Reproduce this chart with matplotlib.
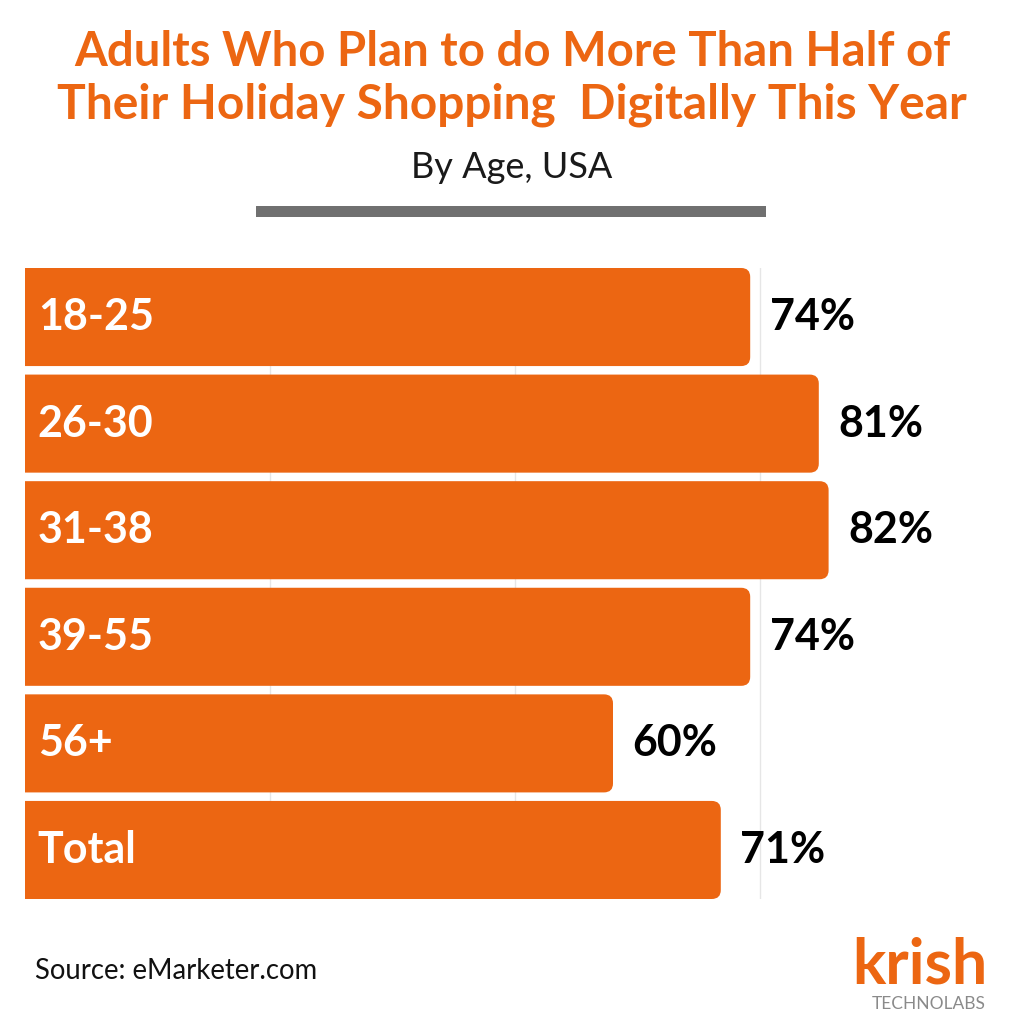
import matplotlib
matplotlib.use("Agg")
import matplotlib.pyplot as plt
from matplotlib.patches import FancyBboxPatch

categories = ["18-25", "26-30", "31-38", "39-55", "56+", "Total"]
values = [74, 81, 82, 74, 60, 71]
value_labels = ["74%", "81%", "82%", "74%", "60%", "71%"]
grid_ticks = [25, 50, 75]

ORANGE = "#EC6612"
W, H = 1024, 1024
fig = plt.figure(figsize=(10.24, 10.24), dpi=100)
fig.patch.set_facecolor("white")

def fx(px):
    return px / W

def fy(py):
    return 1 - py / H

ax_top, ax_bot, ax_l, ax_r = 268, 899, 25, 1005
ax = fig.add_axes([fx(ax_l), fy(ax_bot), fx(ax_r - ax_l), (ax_bot - ax_top) / H])
ax.set_xlim(0, 100)
ax.set_ylim(5.46, -0.46)
for s in ax.spines.values():
    s.set_visible(False)
ax.set_xticks(grid_ticks)
ax.set_yticks([])
ax.tick_params(axis="x", length=0, labelbottom=False)
ax.xaxis.grid(True, color="#e6e6e6", linewidth=1)
ax.set_axisbelow(True)

bars = ax.barh(range(len(categories)), values, height=0.92, color="none")
px_per_x = (ax_r - ax_l) / 100.0
px_per_y = (ax_bot - ax_top) / 5.92
r_px = 9
for b in bars:
    x0, y0, w, h = b.get_x(), b.get_y(), b.get_width(), b.get_height()
    p = FancyBboxPatch((x0 - 3, y0), w + 3, h,
                       boxstyle=f"round,pad=0,rounding_size={r_px / px_per_x}",
                       mutation_aspect=px_per_x / px_per_y,
                       facecolor=ORANGE, edgecolor="none", zorder=3, clip_on=True)
    ax.add_patch(p)

for i, (c, v, lab) in enumerate(zip(categories, values, value_labels)):
    ax.text(1.3, i, c, color="white", fontsize=31, fontweight="bold",
            family="Lato", va="center", ha="left", zorder=4)
    ax.text(v + 2.0, i, lab, color="black", fontsize=31, fontweight="bold",
            family="Lato", va="center", ha="left", zorder=4)

fig.text(0.5, fy(52), "Adults Who Plan to do More Than Half of", color=ORANGE,
         fontsize=34, fontweight="bold", family="Lato", ha="center", va="center")
fig.text(0.5, fy(105), "Their Holiday Shopping  Digitally This Year", color=ORANGE,
         fontsize=34.5, fontweight="bold", family="Lato", ha="center", va="center")
fig.text(0.5, fy(167), "By Age, USA", color="#1a1a1a", fontsize=26,
         family="Lato", ha="center", va="center")

line_ax = fig.add_axes([fx(256), fy(217), fx(766 - 256), 11 / H])
line_ax.set_axis_off()
line_ax.add_patch(plt.Rectangle((0, 0), 1, 1, color="#707070", transform=line_ax.transAxes))

fig.text(fx(35), fy(971), "Source: eMarketer.com", color="#111111", fontsize=19.8,
         family="Lato", ha="left", va="center")
fig.text(fx(920), fy(966), "krish", color=ORANGE, fontsize=45, fontweight="bold",
         family="Lato", ha="center", va="center")
fig.text(fx(929), fy(1004), "TECHNOLABS", color="#8a8a8a", fontsize=12.5,
         family="Lato", ha="center", va="center")

fig.savefig("out.png", dpi=100, facecolor="white")
